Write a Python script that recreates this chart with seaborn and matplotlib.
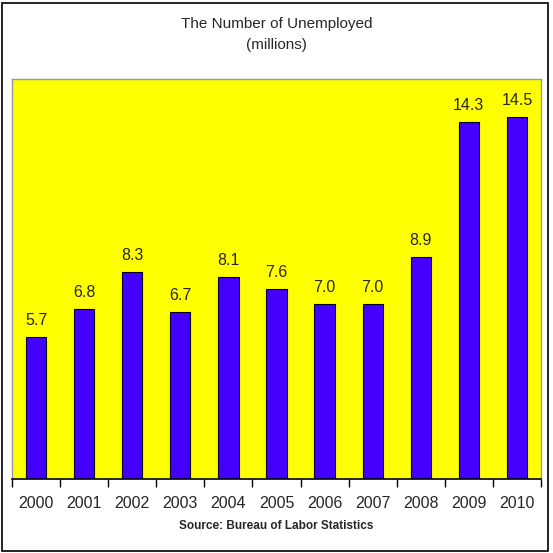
import matplotlib
matplotlib.use("Agg")
import matplotlib.pyplot as plt
import seaborn as sns
import pandas as pd
from matplotlib.patches import Rectangle

# ---------------- data ----------------
years = ["2000", "2001", "2002", "2003", "2004", "2005",
         "2006", "2007", "2008", "2009", "2010"]
unemployed = [5.7, 6.8, 8.3, 6.7, 8.1, 7.6, 7.0, 7.0, 8.9, 14.3, 14.5]

df = pd.DataFrame({"year": years, "unemployed": unemployed})

sns.set_style("white")
plt.rcParams["font.family"] = ["Liberation Sans", "DejaVu Sans"]

fig = plt.figure(figsize=(5.53, 5.53), dpi=100)
ax = fig.add_axes([12 / 553, 1 - 479 / 553, 529 / 553, 400 / 553])
ax.set_facecolor("#FFFF00")

sns.barplot(data=df, x="year", y="unemployed", color="#4400FF",
            saturation=1, width=0.42, edgecolor="black", linewidth=0.8, ax=ax)

for i, v in enumerate(unemployed):
    ax.text(i, v + 0.35, f"{v:.1f}", ha="center", va="bottom", fontsize=11.5)

ax.set_ylim(0, 16)
ax.set_xlim(-0.5, len(years) - 0.5)
ax.set_yticks([])
ax.set_xlabel("")
ax.set_ylabel("")

# separators between categories
ax.set_xticks([i - 0.5 for i in range(len(years) + 1)], minor=False)
ax.set_xticklabels([])
ax.tick_params(axis="x", which="major", direction="out", length=6,
               width=1, color="black", bottom=True)
ax.set_xticks(range(len(years)), minor=True)
ax.set_xticklabels(years, minor=True, fontsize=11.5)
ax.tick_params(axis="x", which="minor", length=0, pad=12)

for side in ["top", "right", "left"]:
    ax.spines[side].set_color("#999999")
    ax.spines[side].set_linewidth(1)
ax.spines["bottom"].set_color("black")
ax.spines["bottom"].set_linewidth(1.2)

fig.text(0.5, 1 - 24 / 553, "The Number of Unemployed", ha="center", va="center", fontsize=11)
fig.text(0.5, 1 - 45 / 553, "(millions)", ha="center", va="center", fontsize=11)
fig.text(0.5, 1 - 526 / 553, "Source: Bureau of Labor Statistics", ha="center",
         va="center", fontsize=8.5, fontweight="bold")

# outer border
fig.patches.append(Rectangle((2 / 553, 2 / 553), 546 / 553, 548 / 553,
                             transform=fig.transFigure, fill=False,
                             edgecolor="black", linewidth=1.2))

fig.savefig("out.png", dpi=100)
